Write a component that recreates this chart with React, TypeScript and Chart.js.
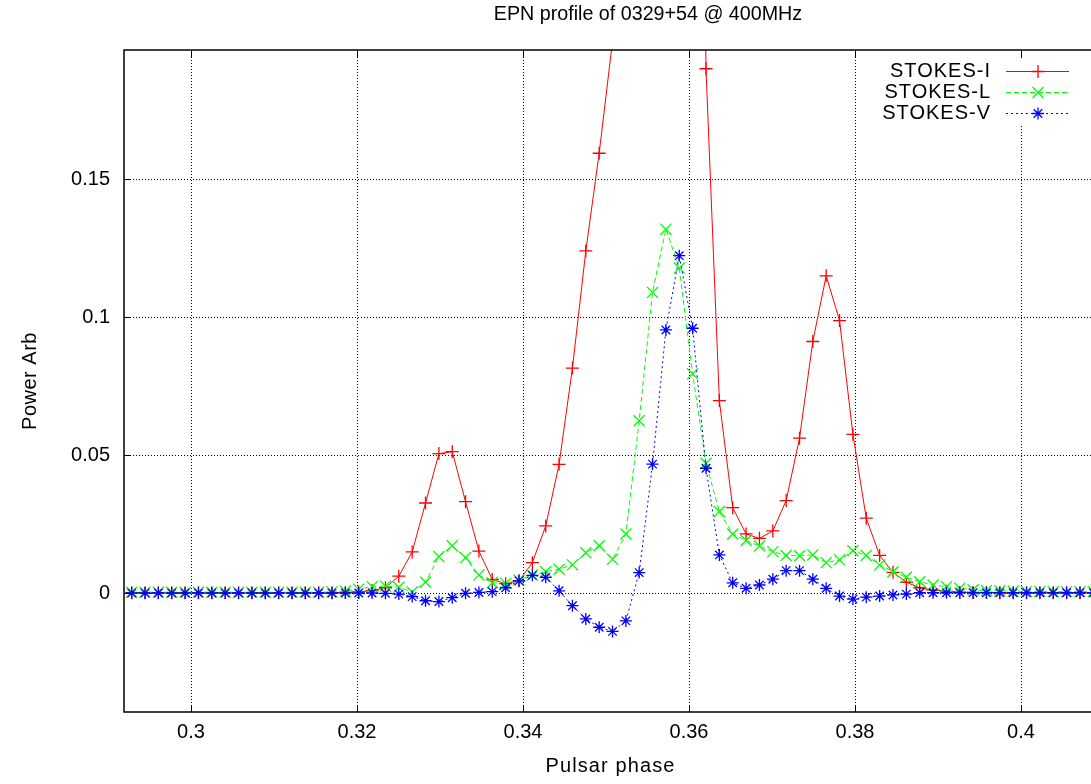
import React, { useEffect, useRef } from 'react';
import { Chart, registerables } from 'chart.js';

Chart.register(...registerables);

// ---- data ----
const PHASE = [
  0.29286, 0.29446, 0.29607, 0.29768, 0.29929, 0.30090, 0.30251, 0.30412, 0.30573, 0.30734,
  0.30895, 0.31056, 0.31217, 0.31377, 0.31538, 0.31699, 0.31860, 0.32021, 0.32182, 0.32343,
  0.32504, 0.32665, 0.32826, 0.32987, 0.33148, 0.33308, 0.33469, 0.33630, 0.33791, 0.33952,
  0.34113, 0.34274, 0.34435, 0.34596, 0.34757, 0.34918, 0.35079, 0.35240, 0.35400, 0.35561,
  0.35722, 0.35883, 0.36044, 0.36205, 0.36366, 0.36527, 0.36688, 0.36849, 0.37010, 0.37171,
  0.37332, 0.37492, 0.37653, 0.37814, 0.37975, 0.38136, 0.38297, 0.38458, 0.38619, 0.38780,
  0.38941, 0.39102, 0.39263, 0.39423, 0.39584, 0.39745, 0.39906, 0.40067, 0.40228, 0.40389,
  0.40550, 0.40711, 0.40872,
];

const STOKES_I = [
  0.0002, 0.0002, 0.0002, 0.0002, 0.0002, 0.0002, 0.0002, 0.0002, 0.0002, 0.0002,
  0.0002, 0.0002, 0.0002, 0.0002, 0.0002, 0.0002, 0.0003, 0.0005, 0.0010, 0.0020,
  0.0062, 0.0150, 0.0327, 0.0506, 0.0513, 0.0332, 0.0153, 0.0050, 0.0035, 0.0045,
  0.0111, 0.0244, 0.0467, 0.0816, 0.1240, 0.1594, 0.2000, 0.3600, 0.5800, 0.8200,
  0.9700, 0.9000, 0.6000, 0.1900, 0.0698, 0.0310, 0.0215, 0.0199, 0.0226, 0.0336,
  0.0562, 0.0912, 0.1150, 0.0988, 0.0576, 0.0272, 0.0137, 0.0076, 0.0040, 0.0020,
  0.0012, 0.0007, 0.0004, 0.0003, 0.0003, 0.0002, 0.0002, 0.0002, 0.0002, 0.0002,
  0.0002, 0.0002, 0.0002,
];

const STOKES_L = [
  0.0004, 0.0004, 0.0004, 0.0004, 0.0004, 0.0004, 0.0004, 0.0004, 0.0004, 0.0004,
  0.0004, 0.0004, 0.0004, 0.0004, 0.0004, 0.0005, 0.0008, 0.0015, 0.0024, 0.0026,
  0.0022, 0.0005, 0.0040, 0.0133, 0.0172, 0.0129, 0.0066, 0.0038, 0.0036, 0.0048,
  0.0066, 0.0078, 0.0087, 0.0103, 0.0147, 0.0172, 0.0123, 0.0215, 0.0625, 0.1090,
  0.1319, 0.1178, 0.0795, 0.0471, 0.0296, 0.0215, 0.0191, 0.0171, 0.0151, 0.0137,
  0.0136, 0.0139, 0.0111, 0.0121, 0.0154, 0.0137, 0.0103, 0.0078, 0.0058, 0.0042,
  0.0030, 0.0024, 0.0018, 0.0013, 0.0010, 0.0009, 0.0008, 0.0007, 0.0007, 0.0006,
  0.0006, 0.0006, 0.0006,
];

const STOKES_V = [
  0.0001, 0.0001, 0.0001, 0.0001, 0.0001, 0.0001, 0.0001, 0.0001, 0.0001, 0.0001,
  0.0001, 0.0001, 0.0001, 0.0001, 0.0001, 0.0001, 0.0001, 0.0001, 0.0001, 0.0000,
  -0.0003, -0.0012, -0.0027, -0.0030, -0.0016, 0.0000, 0.0003, 0.0006, 0.0020, 0.0045,
  0.0065, 0.0058, 0.0009, -0.0045, -0.0093, -0.0123, -0.0138, -0.0100, 0.0075, 0.0468,
  0.0954, 0.1223, 0.0960, 0.0453, 0.0139, 0.0038, 0.0018, 0.0030, 0.0051, 0.0082,
  0.0082, 0.0051, 0.0018, -0.0010, -0.0021, -0.0014, -0.0010, -0.0006, -0.0003, 0.0002,
  0.0002, 0.0002, 0.0002, 0.0002, 0.0002, 0.0002, 0.0002, 0.0002, 0.0002, 0.0002,
  0.0002, 0.0002, 0.0002,
];

const SERIES_NAMES = ['STOKES-I', 'STOKES-L', 'STOKES-V'];
const X_TICKS = [0.3, 0.32, 0.34, 0.36, 0.38, 0.4];
const X_TICK_LABELS = ['0.3', '0.32', '0.34', '0.36', '0.38', '0.4'];
const Y_TICKS = [0, 0.05, 0.1, 0.15];
const Y_TICK_LABELS = ['0', '0.05', '0.1', '0.15'];
const TITLE = 'EPN profile of 0329+54 @ 400MHz';
const X_LABEL = 'Pulsar phase';
const Y_LABEL = 'Power Arb';
const X_MIN = 0.29193;
const X_MAX = 0.40916;
const Y_MIN = -0.043;
const Y_MAX = 0.1968;

const FONT = '"Liberation Sans", Arial, Helvetica, sans-serif';
const CANVAS_W = 1110;
const CANVAS_H = 784;

type MarkerKind = 'cross' | 'crossRot' | 'star';

function drawMarker(ctx: CanvasRenderingContext2D, kind: MarkerKind, x: number, y: number, r: number) {
  ctx.beginPath();
  if (kind === 'cross' || kind === 'star') {
    ctx.moveTo(x - r, y);
    ctx.lineTo(x + r, y);
    ctx.moveTo(x, y - r);
    ctx.lineTo(x, y + r);
  }
  if (kind === 'crossRot' || kind === 'star') {
    const d = r * Math.SQRT1_2;
    ctx.moveTo(x - d, y - d);
    ctx.lineTo(x + d, y + d);
    ctx.moveTo(x - d, y + d);
    ctx.lineTo(x + d, y - d);
  }
  ctx.stroke();
}

function setSpacing(ctx: any, v: string) {
  if ('letterSpacing' in ctx) ctx.letterSpacing = v;
}

const gnuplotPlugin = {
  id: 'gnuplotFrame',
  beforeDatasetsDraw(chart: any) {
    const { ctx, chartArea } = chart;
    const { left, right, top, bottom } = chartArea;
    const xs = chart.scales.x;
    const ys = chart.scales.y;
    ctx.save();
    ctx.strokeStyle = '#000';
    ctx.lineWidth = 1;
    ctx.setLineDash([1, 2]);
    X_TICKS.forEach((v) => {
      const px = Math.round(xs.getPixelForValue(v)) + 0.5;
      ctx.beginPath();
      ctx.moveTo(px, bottom);
      ctx.lineTo(px, top);
      ctx.stroke();
    });
    Y_TICKS.forEach((v) => {
      const py = Math.round(ys.getPixelForValue(v)) + 0.5;
      ctx.beginPath();
      ctx.moveTo(left, py);
      ctx.lineTo(right, py);
      ctx.stroke();
    });
    ctx.setLineDash([]);
    // key background (opaque, hides grid)
    ctx.fillStyle = '#fff';
    ctx.fillRect(872, 58, 210, 68);
    ctx.restore();
  },
  afterDatasetsDraw(chart: any) {
    const { ctx, chartArea } = chart;
    const { left, right, top, bottom } = chartArea;
    const xs = chart.scales.x;
    const ys = chart.scales.y;
    ctx.save();
    // border
    ctx.strokeStyle = '#000';
    ctx.lineWidth = 1.5;
    ctx.strokeRect(left, top, right - left, bottom - top);
    // inward ticks
    ctx.lineWidth = 1;
    const tl = 7;
    X_TICKS.forEach((v) => {
      const px = Math.round(xs.getPixelForValue(v)) + 0.5;
      ctx.beginPath();
      ctx.moveTo(px, bottom);
      ctx.lineTo(px, bottom - tl);
      ctx.moveTo(px, top);
      ctx.lineTo(px, top + tl);
      ctx.stroke();
    });
    Y_TICKS.forEach((v) => {
      const py = Math.round(ys.getPixelForValue(v)) + 0.5;
      ctx.beginPath();
      ctx.moveTo(left, py);
      ctx.lineTo(left + tl, py);
      ctx.moveTo(right, py);
      ctx.lineTo(right - tl, py);
      ctx.stroke();
    });

    // legend (key)
    ctx.font = `20px ${FONT}`;
    setSpacing(ctx, '1px');
    ctx.fillStyle = '#000';
    ctx.textAlign = 'right';
    ctx.textBaseline = 'middle';
    const rowsY = [71, 92, 113];
    chart.data.datasets.forEach((ds: any, i: number) => {
      const yy = rowsY[i];
      ctx.fillStyle = '#000';
      ctx.fillText(SERIES_NAMES[i], 991, yy);
      ctx.strokeStyle = ds.borderColor;
      ctx.lineWidth = 1;
      ctx.setLineDash(ds.borderDash || []);
      ctx.beginPath();
      ctx.moveTo(1006, yy + 0.5);
      ctx.lineTo(1069, yy + 0.5);
      ctx.stroke();
      ctx.setLineDash([]);
      ctx.lineWidth = ds.pointBorderWidth;
      drawMarker(ctx, ds.pointStyle, 1038, yy + 0.5, ds.pointRadius);
    });

    // title and axis labels
    ctx.fillStyle = '#000';
    ctx.textAlign = 'center';
    ctx.textBaseline = 'middle';
    setSpacing(ctx, '0px');
    ctx.font = `19.7px ${FONT}`;
    ctx.fillText(TITLE, 648, 15);
    ctx.font = `20px ${FONT}`;
    setSpacing(ctx, '1.1px');
    ctx.fillText(X_LABEL, (left + right) / 2, 766);
    setSpacing(ctx, '0.5px');
    ctx.translate(30, (top + bottom) / 2);
    ctx.rotate(-Math.PI / 2);
    ctx.fillText(Y_LABEL, 0, 0);
    setSpacing(ctx, '0px');
    ctx.restore();
  },
};

function toPoints(vals: number[]) {
  return PHASE.map((p, i) => ({ x: p, y: vals[i] }));
}

export default function App() {
  const ref = useRef<HTMLCanvasElement | null>(null);

  useEffect(() => {
    const canvas = ref.current;
    if (!canvas) return;
    const chart = new Chart(canvas, {
      type: 'line',
      data: {
        datasets: [
          {
            label: SERIES_NAMES[0],
            data: toPoints(STOKES_I),
            borderColor: '#ff0000',
            backgroundColor: '#ff0000',
            borderWidth: 1,
            pointStyle: 'cross',
            pointRadius: 6.5,
            pointBorderWidth: 1.3,
            pointBorderColor: '#ff0000',
            tension: 0,
            fill: false,
            order: 3,
          },
          {
            label: SERIES_NAMES[1],
            data: toPoints(STOKES_L),
            borderColor: '#00ff00',
            backgroundColor: '#00ff00',
            borderWidth: 1,
            borderDash: [5, 3],
            pointStyle: 'crossRot',
            pointRadius: 7.8,
            pointBorderWidth: 1.3,
            pointBorderColor: '#00ff00',
            tension: 0,
            fill: false,
            order: 2,
          },
          {
            label: SERIES_NAMES[2],
            data: toPoints(STOKES_V),
            borderColor: '#0000ff',
            backgroundColor: '#0000ff',
            borderWidth: 1,
            borderDash: [2, 3],
            pointStyle: 'star',
            pointRadius: 6,
            pointBorderWidth: 1.3,
            pointBorderColor: '#0000ff',
            tension: 0,
            fill: false,
            order: 1,
          },
        ],
      },
      options: {
        responsive: false,
        animation: false,
        devicePixelRatio: 1,
        events: [],
        layout: { padding: { left: 0, top: 50, right: CANVAS_W - 1097, bottom: 0 } },
        plugins: {
          legend: { display: false },
          title: { display: false },
          tooltip: { enabled: false },
        },
        scales: {
          x: {
            type: 'linear',
            min: X_MIN,
            max: X_MAX,
            grid: { display: false, drawTicks: false },
            border: { display: false },
            afterBuildTicks: (s: any) => {
              s.ticks = X_TICKS.map((v) => ({ value: v }));
            },
            afterFit: (s: any) => {
              s.height = 72;
            },
            ticks: {
              color: '#000',
              font: { family: FONT, size: 20 },
              padding: 8,
              maxRotation: 0,
              autoSkip: false,
              callback: (v: any) => {
                const k = X_TICKS.findIndex((t) => Math.abs(t - Number(v)) < 1e-9);
                return k >= 0 ? X_TICK_LABELS[k] : '';
              },
            },
          },
          y: {
            type: 'linear',
            min: Y_MIN,
            max: Y_MAX,
            grid: { display: false, drawTicks: false },
            border: { display: false },
            afterBuildTicks: (s: any) => {
              s.ticks = Y_TICKS.map((v) => ({ value: v }));
            },
            afterFit: (s: any) => {
              s.width = 124;
            },
            ticks: {
              color: '#000',
              font: { family: FONT, size: 20 },
              padding: 14,
              callback: (v: any) => {
                const k = Y_TICKS.findIndex((t) => Math.abs(t - Number(v)) < 1e-9);
                return k >= 0 ? Y_TICK_LABELS[k] : '';
              },
            },
          },
        },
      },
      plugins: [gnuplotPlugin],
    } as any);
    return () => chart.destroy();
  }, []);

  return (
    <div
      style={{
        position: 'fixed',
        left: 0,
        top: 0,
        width: 1091,
        height: 784,
        overflow: 'hidden',
        background: '#fff',
      }}
    >
      <canvas ref={ref} width={CANVAS_W} height={CANVAS_H} style={{ width: CANVAS_W, height: CANVAS_H, display: 'block' }} />
    </div>
  );
}
